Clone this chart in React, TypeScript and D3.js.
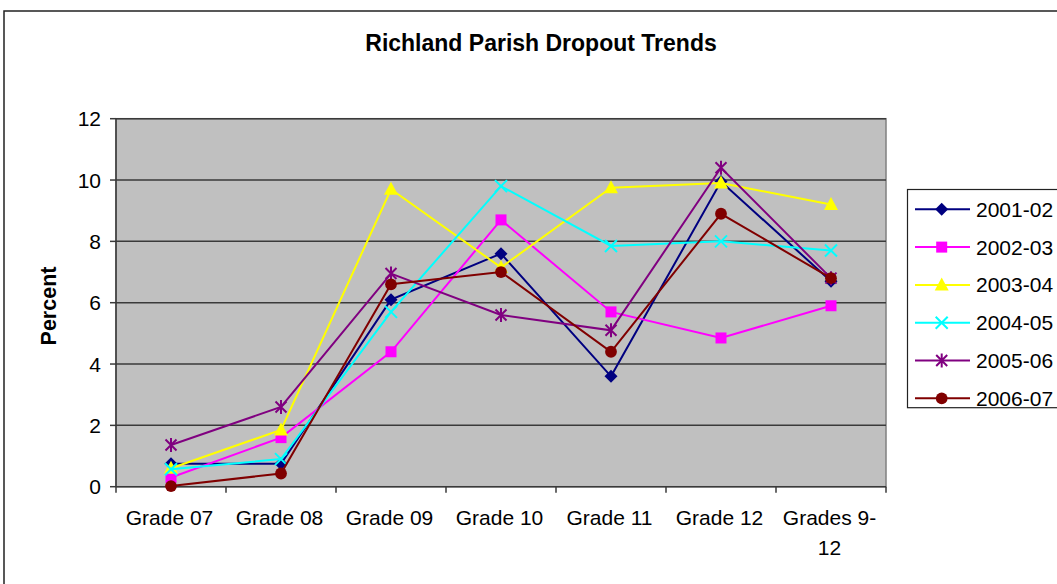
import React from "react";
import * as d3 from "d3";

const categories = ["Grade 07", "Grade 08", "Grade 09", "Grade 10", "Grade 11", "Grade 12", "Grades 9-12"];
const seriesNames = ["2001-02", "2002-03", "2003-04", "2004-05", "2005-06", "2006-07"];
const s2001 = [0.75, 0.75, 6.1, 7.6, 3.6, 9.95, 6.7];
const s2002 = [0.3, 1.6, 4.4, 8.7, 5.7, 4.85, 5.9];
const s2003 = [0.6, 1.85, 9.7, 7.15, 9.75, 9.9, 9.2];
const s2004 = [0.57, 0.9, 5.7, 9.8, 7.85, 8.0, 7.7];
const s2005 = [1.36, 2.6, 6.95, 5.6, 5.1, 10.4, 6.8];
const s2006 = [0.02, 0.43, 6.6, 7.0, 4.4, 8.9, 6.8];
const yTicks = [0, 2, 4, 6, 8, 10, 12];
const colors = ["#000080", "#FF00FF", "#FFFF00", "#00FFFF", "#800080", "#800000"];
const markerTypes = ["diamond", "square", "triangle", "x", "star", "circle"];
const allSeries = [s2001, s2002, s2003, s2004, s2005, s2006];

const FONT = "'Liberation Sans', Arial, sans-serif";

function Marker({ type, color, x, y }: { type: string; color: string; x: number; y: number }) {
  const t = `translate(${x},${y})`;
  switch (type) {
    case "diamond":
      return <path transform={t} d="M0,-6.5L6.5,0L0,6.5L-6.5,0Z" fill={color} />;
    case "square":
      return <rect transform={t} x={-5.5} y={-5.5} width={11} height={11} fill={color} />;
    case "triangle":
      return <path transform={t} d="M0,-7.5L7,5.5L-7,5.5Z" fill={color} />;
    case "x":
      return (
        <path transform={t} d="M-6,-6L6,6M-6,6L6,-6" stroke={color} strokeWidth={2} fill="none" />
      );
    case "star":
      return (
        <path transform={t} d="M-5.5,-5.5L5.5,5.5M-5.5,5.5L5.5,-5.5M0,-7L0,7" stroke={color} strokeWidth={2} fill="none" />
      );
    default:
      return <circle transform={t} r={5.9} fill={color} />;
  }
}

export default function App() {
  const W = 1057, H = 584;
  const left = 116, right = 886, top = 118.7, bottom = 486.7;
  const x = d3.scaleBand<string>().domain(categories).range([left, right]).padding(0);
  const y = d3.scaleLinear().domain([0, 12]).range([bottom, top]);
  const line = d3
    .line<number>()
    .x((_, i) => (x(categories[i]) as number) + x.bandwidth() / 2)
    .y((d) => y(d));

  const splitLabel = (s: string) => (s.length > 10 ? [s.slice(0, s.indexOf("-") + 1), s.slice(s.indexOf("-") + 1)] : [s]);

  const legX = 907.5, legY = 189.5, legStep = 37.8;

  return (
    <svg width={W} height={H} style={{ position: "absolute", left: 0, top: 0, background: "#fff" }} fontFamily={FONT}>
      <rect x={0} y={0} width={W} height={H} fill="#fff" />
      <rect x={4} y={11} width={W + 20} height={H + 20} fill="none" stroke="#222" strokeWidth={1.5} />
      <text x={541} y={51} textAnchor="middle" fontWeight="bold" fontSize={23}>
        Richland Parish Dropout Trends
      </text>
      {/* plot area */}
      <rect x={left} y={top} width={right - left} height={bottom - top} fill="#C0C0C0" stroke="#808080" strokeWidth={1.5} />
      {yTicks.map((t) => (
        <g key={t}>
          {t > 0 && <line x1={left} x2={right} y1={y(t)} y2={y(t)} stroke="#3a3a3a" strokeWidth={1.5} />}
          <line x1={left - 6} x2={left} y1={y(t)} y2={y(t)} stroke="#3a3a3a" strokeWidth={1.5} />
          <text x={101} y={y(t) + 7.5} textAnchor="end" fontSize={21}>
            {t}
          </text>
        </g>
      ))}
      <line x1={left} x2={left} y1={top} y2={bottom} stroke="#3a3a3a" strokeWidth={1.5} />
      <line x1={left} x2={right} y1={bottom} y2={bottom} stroke="#3a3a3a" strokeWidth={1.5} />
      {categories.map((c, i) => (
        <line key={"t" + i} x1={x(c) as number} x2={x(c) as number} y1={bottom} y2={bottom + 6} stroke="#3a3a3a" strokeWidth={1.5} />
      ))}
      <line x1={right} x2={right} y1={bottom} y2={bottom + 6} stroke="#3a3a3a" strokeWidth={1.5} />
      {categories.map((c, i) => (
        <text key={"l" + i} x={(x(c) as number) + x.bandwidth() / 2 - 1.5} y={525} textAnchor="middle" fontSize={21}>
          {splitLabel(c).map((ln, j) => (
            <tspan key={j} x={(x(c) as number) + x.bandwidth() / 2 - 1.5} dy={j === 0 ? 0 : 30}>
              {ln}
            </tspan>
          ))}
        </text>
      ))}
      <text transform={`translate(56,306) rotate(-90)`} textAnchor="middle" fontWeight="bold" fontSize={21.5}>
        Percent
      </text>
      {/* series */}
      {allSeries.map((s, k) => (
        <g key={"s" + k}>
          <path d={line(s) || ""} fill="none" stroke={colors[k]} strokeWidth={2} />
          {s.map((v, i) => (
            <Marker key={i} type={markerTypes[k]} color={colors[k]} x={(x(categories[i]) as number) + x.bandwidth() / 2} y={y(v)} />
          ))}
        </g>
      ))}
      {/* legend */}
      <rect x={legX} y={legY} width={200} height={407.7 - legY} fill="#fff" stroke="#222" strokeWidth={1.2} />
      {seriesNames.map((n, k) => {
        const cy = 209.3 + k * legStep;
        return (
          <g key={"lg" + k}>
            <line x1={915} x2={970} y1={cy} y2={cy} stroke={colors[k]} strokeWidth={2} />
            <Marker type={markerTypes[k]} color={colors[k]} x={941.7} y={cy} />
            <text x={976} y={cy + 7.5} fontSize={21}>
              {n}
            </text>
          </g>
        );
      })}
    </svg>
  );
}
